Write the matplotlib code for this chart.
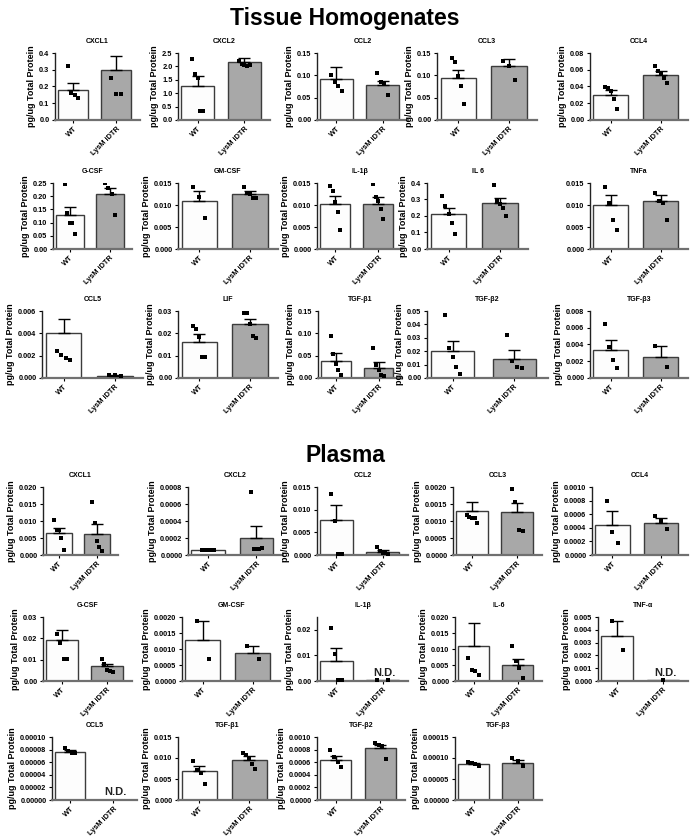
import numpy as np
import matplotlib
matplotlib.use("Agg")
import matplotlib.pyplot as plt
import matplotlib.transforms as mtransforms

plt.rcParams['font.family'] = ['Liberation Sans', 'DejaVu Sans']
plt.rcParams['font.weight'] = 'bold'

groups = ['WT', 'LysM iDTR']

# ---- Tissue homogenates (pg/ug total protein) ----
tissue_names = ['CXCL1', 'CXCL2', 'CCL2', 'CCL3', 'CCL4',
                'G-CSF', 'GM-CSF', 'IL-1β', 'IL 6', 'TNFa',
                'CCL5', 'LIF', 'TGF-β1', 'TGF-β2', 'TGF-β3']
tissue_mean = [[0.18, 0.30], [1.25, 2.15], [0.092, 0.078], [0.094, 0.121], [0.030, 0.054],
               [0.127, 0.208], [0.0110, 0.0124], [0.0103, 0.0103], [0.21, 0.278], [0.0101, 0.0108],
               [0.0040, 0.0002], [0.0163, 0.0240], [0.039, 0.023], [0.0198, 0.0145], [0.0033, 0.0025]]
tissue_sem = [[0.04, 0.08], [0.40, 0.18], [0.026, 0.010], [0.019, 0.016], [0.006, 0.004],
              [0.033, 0.024], [0.0021, 0.0007], [0.0017, 0.0016], [0.04, 0.032], [0.0021, 0.0015],
              [0.0013, 0.0001], [0.0032, 0.0025], [0.016, 0.013], [0.0077, 0.0062], [0.0012, 0.0013]]
tissue_pts = [
    [[0.32, 0.16, 0.15, 0.13], [0.25, 0.155, 0.155]],
    [[2.28, 1.72, 1.55, 0.35, 0.35], [2.2, 2.1, 2.05, 2.0, 2.05]],
    [[0.10, 0.085, 0.075, 0.065], [0.105, 0.085, 0.08, 0.055]],
    [[0.139, 0.13, 0.098, 0.077, 0.036], [0.133, 0.12, 0.09]],
    [[0.039, 0.038, 0.035, 0.025, 0.013], [0.064, 0.058, 0.056, 0.050, 0.044]],
    [[0.245, 0.135, 0.10, 0.098, 0.055], [0.25, 0.23, 0.21, 0.128]],
    [[0.0142, 0.0118, 0.0070], [0.0140, 0.0128, 0.0125, 0.0115, 0.0115]],
    [[0.0143, 0.0132, 0.0107, 0.0085, 0.0044], [0.0148, 0.0118, 0.0110, 0.0090, 0.0068]],
    [[0.32, 0.26, 0.21, 0.16, 0.09], [0.385, 0.29, 0.27, 0.25, 0.20]],
    [[0.0140, 0.0105, 0.0067, 0.0044], [0.0128, 0.0108, 0.0105, 0.0067]],
    [[0.0024, 0.0021, 0.0018, 0.0016], [0.0003, 0.00025, 0.0002]],
    [[0.0235, 0.022, 0.0185, 0.0095, 0.0095], [0.029, 0.029, 0.024, 0.019, 0.0178]],
    [[0.093, 0.054, 0.032, 0.019, 0.007], [0.067, 0.030, 0.019, 0.007, 0.005]],
    [[0.047, 0.0225, 0.016, 0.008, 0.003], [0.032, 0.013, 0.008, 0.0075]],
    [[0.0064, 0.0037, 0.0021, 0.0012], [0.0038, 0.0013]],
]
tissue_ytop = [0.4, 2.5, 0.15, 0.15, 0.08, 0.25, 0.015, 0.015, 0.4, 0.015, 0.006, 0.03, 0.15, 0.05, 0.008]
tissue_ystep = [0.1, 0.5, 0.05, 0.05, 0.02, 0.05, 0.005, 0.005, 0.1, 0.005, 0.002, 0.01, 0.05, 0.01, 0.002]
tissue_ydec = [1, 1, 2, 2, 2, 2, 3, 3, 1, 3, 3, 2, 2, 2, 3]

# ---- Plasma (pg/ug total protein) ----
plasma_names = ['CXCL1', 'CXCL2', 'CCL2', 'CCL3', 'CCL4',
                'G-CSF', 'GM-CSF', 'IL-1β', 'IL-6', 'TNF-α',
                'CCL5', 'TGF-β1', 'TGF-β2', 'TGF-β3']
plasma_mean = [[0.0066, 0.0062], [0.00006, 0.0002], [0.0077, 0.0007], [0.0013, 0.00127], [0.00044, 0.00047],
               [0.019, 0.0068], [0.00128, 0.00088], [0.0077, 0.0003], [0.011, 0.0051], [0.0035, 0.00005],
               [0.0000755, 0.0], [0.0069, 0.0096], [0.00063, 0.00083], [0.0000855, 0.000088]]
plasma_sem = [[0.0014, 0.0028], [0.000005, 0.00014], [0.0034, 0.0005], [0.00027, 0.00026], [0.0002, 0.00007],
              [0.005, 0.001], [0.0006, 0.00022], [0.005, 0.0], [0.007, 0.0017], [0.0012, 0.0],
              [0.0000035, 0.0], [0.0012, 0.0009], [0.00007, 0.00005], [0.0000025, 0.000007]]
plasma_pts = [
    [[0.0103, 0.0075, 0.0073, 0.0050, 0.0014], [0.0155, 0.0093, 0.0040, 0.0025, 0.0013]],
    [[0.00006, 0.00006, 0.00006, 0.00006, 0.00006], [0.00074, 0.00007, 0.00007, 0.00007, 0.00008]],
    [[0.0135, 0.0076, 0.0003, 0.0002], [0.0018, 0.0008, 0.0005, 0.0004, 0.0003]],
    [[0.00117, 0.00113, 0.0011, 0.0011, 0.00095], [0.00195, 0.00155, 0.00074, 0.00072]],
    [[0.0008, 0.00034, 0.00018], [0.00058, 0.0005, 0.00038]],
    [[0.0218, 0.0176, 0.0104, 0.0101], [0.0104, 0.0082, 0.0051, 0.0047, 0.0044]],
    [[0.00188, 0.00068], [0.0011, 0.00068]],
    [[0.0208, 0.0105, 0.0002, 0.0002], [0.0003, 0.0003]],
    [[0.0072, 0.0035, 0.0032, 0.0018], [0.011, 0.0062, 0.0041, 0.0009]],
    [[0.0047, 0.0024], [0.00008]],
    [[0.000082, 0.000077, 0.000075, 0.000074], []],
    [[0.0092, 0.0072, 0.0065, 0.0037], [0.0113, 0.0107, 0.0101, 0.0085, 0.0073]],
    [[0.0008, 0.00068, 0.0006, 0.00052], [0.0009, 0.00088, 0.00085, 0.00065]],
    [[0.00009, 0.000088, 0.000085, 0.00008], [0.000099, 0.000092, 0.000082]],
]
plasma_ytop = [0.020, 0.0008, 0.015, 0.0020, 0.0010, 0.03, 0.0020, 0.025, 0.020, 0.005,
               0.00010, 0.015, 0.0010, 0.00015]
plasma_ytickmax = [0.020, 0.0008, 0.015, 0.0020, 0.0010, 0.03, 0.0020, 0.02, 0.020, 0.005,
                   0.00010, 0.015, 0.0010, 0.00015]
plasma_ystep = [0.005, 0.0002, 0.005, 0.0005, 0.0002, 0.01, 0.0005, 0.01, 0.005, 0.001,
                0.00002, 0.005, 0.0002, 0.00005]
plasma_ydec = [3, 4, 3, 4, 4, 2, 4, 2, 3, 3, 5, 3, 4, 5]
plasma_nd = ['', '', '', '', '', '', '', 'N.D.', '', 'N.D.', 'N.D.', '', '', '']

# axes boxes in pixels: (top, bottom, [(left, right), ...]) per row
tissue_rows = [
    (53, 120, [(55, 140), (178, 270), (317, 408), (437, 537), (590, 688)]),
    (183, 249, [(53, 132), (178, 278), (317, 402), (427, 528), (590, 688)]),
    (311, 378, [(42, 143), (178, 278), (318, 402), (427, 548), (590, 688)]),
]
plasma_rows = [
    (487, 555, [(43, 118), (188, 283), (317, 408), (453, 542), (592, 688)]),
    (617, 681, [(43, 132), (182, 280), (317, 408), (455, 542), (598, 688)]),
    (737, 800, [(52, 137), (178, 277), (317, 405), (455, 542)]),
]

W, H = 690, 838
fig = plt.figure(figsize=(W / 100, H / 100), dpi=100)


def draw_panel(ax, name, means, sems, pts, ytop, ytickmax, ystep, ndec, ylabel=True, nd=''):
    x = np.arange(len(groups))
    ax.bar(x, means, width=0.7, color=['#fdfdfd', '#a8a8a8'], edgecolor='#3c3c3c',
           linewidth=1.0, zorder=2)
    for i in range(len(groups)):
        if sems[i] > 0:
            ax.errorbar(x[i], means[i], yerr=[[0], [sems[i]]], fmt='none', ecolor='black',
                        elinewidth=1.0, capsize=4.5, capthick=1.0, zorder=3)
        p = pts[i]
        if len(p) > 0:
            off = np.linspace(-0.12, 0.12, len(p)) if len(p) > 1 else np.zeros(1)
            ax.plot(x[i] + off, p, 's', color='black', ms=2.5, mew=0, zorder=4)
    if nd:
        trans = mtransforms.blended_transform_factory(ax.transData, ax.transAxes)
        ax.text(1.05, 0.04, nd, transform=trans, ha='center', va='bottom',
                fontsize=8, fontweight='bold', color='#222222')
    ax.set_xlim(-0.42, 1.55)
    ax.set_ylim(0, ytop)
    ticks = np.arange(0, ytickmax + ystep * 0.5, ystep)
    ax.set_yticks(ticks)
    ax.set_yticklabels([f'{t:.{ndec}f}' for t in ticks])
    ax.set_xticks(x)
    ax.set_xticklabels(groups, rotation=45, ha='right', rotation_mode='anchor')
    ax.set_title(name, fontsize=5, fontweight='bold', pad=7)
    if ylabel:
        ax.set_ylabel('pg/ug Total Protein', fontsize=6.5, fontweight='bold', labelpad=2)
    for s in ['top', 'right']:
        ax.spines[s].set_visible(False)
    ax.spines['left'].set_color('#222222')
    ax.spines['left'].set_linewidth(1.0)
    ax.spines['bottom'].set_color('#707070')
    ax.spines['bottom'].set_linewidth(1.6)
    ax.tick_params(axis='both', labelsize=5.3, length=2.5, width=0.8, pad=1.5)


def add_ax(top, bottom, left, right):
    return fig.add_axes([left / W, 1 - bottom / H, (right - left) / W, (bottom - top) / H])


k = 0
for top, bottom, cols in tissue_rows:
    for left, right in cols:
        ax = add_ax(top, bottom, left, right)
        draw_panel(ax, tissue_names[k], tissue_mean[k], tissue_sem[k], tissue_pts[k],
                   tissue_ytop[k], tissue_ytop[k], tissue_ystep[k], tissue_ydec[k],
                   ylabel=(tissue_names[k] != 'TNFa'))
        k += 1

k = 0
for top, bottom, cols in plasma_rows:
    for left, right in cols:
        ax = add_ax(top, bottom, left, right)
        draw_panel(ax, plasma_names[k], plasma_mean[k], plasma_sem[k], plasma_pts[k],
                   plasma_ytop[k], plasma_ytickmax[k], plasma_ystep[k], plasma_ydec[k],
                   nd=plasma_nd[k])
        k += 1

fig.text(0.5, 1 - 18 / H, 'Tissue Homogenates', ha='center', va='center',
         fontsize=16.5, fontweight='bold')
fig.text(0.5, 1 - 455 / H, 'Plasma', ha='center', va='center',
         fontsize=16.5, fontweight='bold')

fig.savefig('out.png', dpi=100)
